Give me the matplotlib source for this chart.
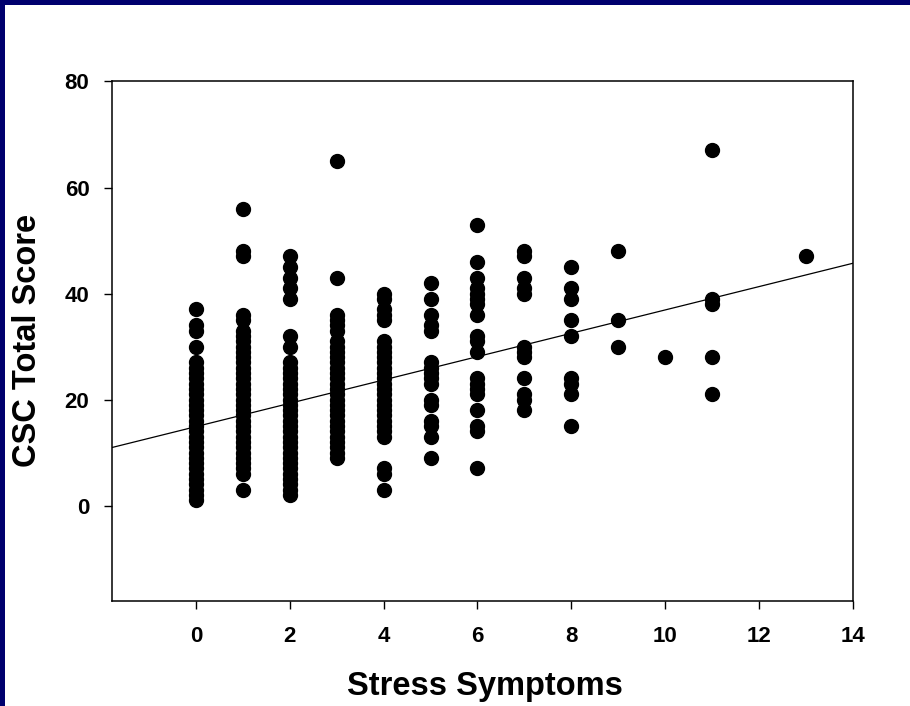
import matplotlib
matplotlib.use("Agg")
import matplotlib.pyplot as plt
from matplotlib.patches import Rectangle

# CSC total score observed at each stress-symptom count
csc_s0 = [37, 34, 33, 30, 27, 26, 25, 24, 23, 22, 21, 20, 19, 18, 17, 16, 15, 14,
          13, 12, 11, 10, 9, 8, 7, 6, 5, 4, 3, 2, 1]
csc_s1 = [56, 48, 47, 36, 35, 33, 32, 31, 30, 29, 28, 27, 26, 25, 24, 23, 22, 21,
          20, 19, 18, 17, 16, 15, 14, 13, 12, 11, 10, 9, 8, 7, 6, 3]
csc_s2 = [47, 45, 43, 41, 39, 32, 30, 27, 26, 25, 24, 23, 22, 21, 20, 19, 18, 17,
          16, 15, 14, 13, 12, 11, 10, 9, 8, 7, 6, 5, 4, 3, 2]
csc_s3 = [65, 43, 36, 35, 34, 33, 31, 30, 29, 28, 27, 26, 25, 24, 23, 22, 21, 20,
          19, 18, 17, 16, 15, 14, 13, 12, 11, 10, 9]
csc_s4 = [40, 39, 37, 36, 35, 31, 30, 29, 28, 27, 26, 25, 24, 23, 22, 21, 20, 19,
          18, 17, 16, 15, 14, 13, 7, 6, 3]
csc_s5 = [42, 39, 36, 34, 33, 27, 26, 25, 24, 23, 20, 19, 16, 15, 13, 9]
csc_s6 = [53, 46, 43, 41, 40, 39, 38, 36, 32, 31, 29, 24, 23, 22, 21, 18, 15, 14, 7]
csc_s7 = [48, 47, 43, 41, 40, 30, 29, 28, 24, 21, 20, 18]
csc_s8 = [45, 41, 39, 35, 32, 24, 23, 21, 15]
csc_s9 = [48, 35, 30]
csc_s10 = [28]
csc_s11 = [67, 39, 38, 28, 21]
csc_s13 = [47]

stress_levels = [0, 1, 2, 3, 4, 5, 6, 7, 8, 9, 10, 11, 13]
csc_groups = [csc_s0, csc_s1, csc_s2, csc_s3, csc_s4, csc_s5, csc_s6, csc_s7,
              csc_s8, csc_s9, csc_s10, csc_s11, csc_s13]

# linear regression line
fit_intercept = 14.9
fit_slope = 2.2

x_ticks = [0, 2, 4, 6, 8, 10, 12, 14]
y_ticks = [0, 20, 40, 60, 80]

xs = []
ys = []
for level, scores in zip(stress_levels, csc_groups):
    xs.extend([level] * len(scores))
    ys.extend(scores)

plt.rcParams["font.family"] = "Liberation Sans"
plt.rcParams["font.weight"] = "bold"

fig = plt.figure(figsize=(9.1, 7.06), dpi=100)
fig.patch.set_facecolor("white")

# navy slide frame along the top and left edges
fig.patches.append(Rectangle((0, 1 - 5 / 706), 1, 5 / 706, transform=fig.transFigure,
                             facecolor="#00006e", edgecolor="none", zorder=0))
fig.patches.append(Rectangle((0, 0), 5 / 910, 1, transform=fig.transFigure,
                             facecolor="#00006e", edgecolor="none", zorder=0))

ax = fig.add_axes([0.1227, 0.1487, 0.8143, 0.7359])
ax.plot(xs, ys, "o", color="black", markersize=10, zorder=3)

x_line = [-1.8, 14]
y_line = [fit_intercept + fit_slope * x for x in x_line]
ax.plot(x_line, y_line, color="black", linewidth=0.9, zorder=2)

ax.set_xlim(-1.8, 14)
ax.set_ylim(-18, 80)
ax.set_xticks(x_ticks)
ax.set_yticks(y_ticks)

for side in ["left", "bottom", "top", "right"]:
    ax.spines[side].set_linewidth(1.1)

ax.tick_params(axis="both", which="both", direction="out", length=6, width=1,
               labelsize=16, top=False, right=False)
ax.tick_params(axis="x", pad=12)
ax.tick_params(axis="y", pad=10)
for lbl in ax.get_xticklabels() + ax.get_yticklabels():
    lbl.set_fontweight("bold")

fig.text(485 / 910, 1 - 686 / 706, "Stress Symptoms", ha="center", va="center",
         fontsize=23.5, fontweight="bold")
fig.text(27.5 / 910, 1 - 340 / 706, "CSC Total Score", ha="center", va="center",
         rotation=90, fontsize=23.5, fontweight="bold")

fig.savefig("out.png", dpi=100)
plt.close(fig)
